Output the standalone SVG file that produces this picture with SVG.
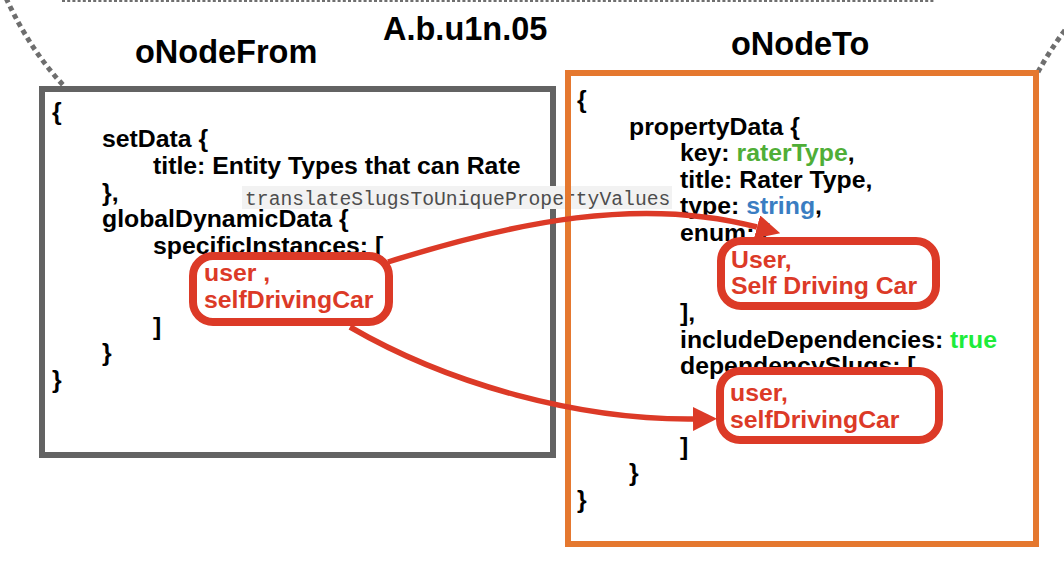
<svg xmlns="http://www.w3.org/2000/svg" width="1064" height="586" viewBox="0 0 1064 586">
<style>
.t{font-family:"Liberation Sans",Arial,Helvetica,sans-serif;font-weight:bold;font-size:24.8px;fill:#000}
.h{font-size:32.5px}
.r{fill:#DC3A27}
.g{fill:#4FAE37}
.b{fill:#3A7DC2}
.tr{fill:#1EEC3A}
.m{font-family:"Liberation Mono","Courier New",monospace;font-size:19.7px;fill:#4d4d4d}
.box{stroke-width:6}
.rb{fill:#fff;stroke:#DC3A27;stroke-width:8}
.dot{fill:none;stroke:#6e6e6e}
.edge{fill:none;stroke:#DC3A27;stroke-width:5.5}
</style>
<defs>
<marker id="ah" markerUnits="userSpaceOnUse" markerWidth="24" markerHeight="24" viewBox="0 0 24 24" refX="0" refY="12" orient="auto">
<path d="M0,0 L24,12 L0,24 z" fill="#DC3A27"/>
</marker>
</defs>
<rect width="1064" height="586" fill="#fff"/>
<g id="callout">
<line class="dot" x1="62" y1="-0.5" x2="934" y2="-0.5" stroke-width="5" stroke-dasharray="3 2.2"/>
<path class="dot" d="M6,-2 Q30,50 64,86" stroke-width="5" stroke-dasharray="5 4"/>
<path class="dot" d="M1038,72 Q1050,50 1068,26" stroke-width="5" stroke-dasharray="5 4"/>
</g>
<g id="title">
<text class="t h" x="383" y="40">A.b.u1n.05</text>
</g>
<g id="oNodeFrom">
<text class="t h" x="135" y="63">oNodeFrom</text>
<rect class="box" x="42" y="89" width="511" height="366" stroke="#636363" fill="#fff"/>
<text class="t" x="52" y="120">{</text>
<text class="t" x="102" y="147">setData {</text>
<text class="t" x="153" y="174">title: Entity Types that can Rate</text>
<text class="t" x="102" y="200.5">},</text>
<text class="t" x="102" y="227">globalDynamicData {</text>
<text class="t" x="153" y="254">specificInstances: [</text>
<rect class="rb" x="193" y="256" width="196" height="66" rx="20"/>
<text class="t r" x="204" y="281">user ,</text>
<text class="t r" x="204" y="308">selfDrivingCar</text>
<text class="t" x="153" y="334.5">]</text>
<text class="t" x="102" y="361">}</text>
<text class="t" x="52" y="388">}</text>
</g>
<g id="edge-label">
<rect x="242" y="186" width="430" height="23" fill="#f2f2f2"/>
<text class="m" x="245" y="204.5">translateSlugsToUniquePropertyValues</text>
</g>
<g id="oNodeTo">
<text class="t h" x="731" y="55">oNodeTo</text>
<rect class="box" x="568" y="73" width="468" height="471" stroke="#E5782F" fill="none"/>
<text class="t" x="577" y="108">{</text>
<text class="t" x="629" y="134.5">propertyData {</text>
<text class="t" x="680" y="161">key: <tspan class="g">raterType</tspan>,</text>
<text class="t" x="680" y="187.5">title: Rater Type,</text>
<text class="t" x="680" y="214">type: <tspan class="b">string</tspan>,</text>
<text class="t" x="680" y="241">enum: [</text>
<rect class="rb" x="721" y="241" width="215" height="65" rx="20"/>
<text class="t r" x="731" y="267.5">User,</text>
<text class="t r" x="731" y="294">Self Driving Car</text>
<text class="t" x="680" y="321">],</text>
<text class="t" x="680" y="347.5">includeDependencies: <tspan class="tr">true</tspan></text>
<text class="t" x="680" y="374">dependencySlugs: [</text>
<rect class="rb" x="720" y="371" width="219" height="69" rx="20"/>
<text class="t r" x="730" y="401">user,</text>
<text class="t r" x="730" y="427.5">selfDrivingCar</text>
<text class="t" x="680" y="454.5">]</text>
<text class="t" x="629" y="481">}</text>
<text class="t" x="577" y="508">}</text>
</g>
<g id="connectors">
<path class="edge" d="M388,262 C515,222 640,196 757,227" marker-end="url(#ah)"/>
<path class="edge" d="M350,327 C450,385 580,420 693,419" marker-end="url(#ah)"/>
</g>
</svg>
